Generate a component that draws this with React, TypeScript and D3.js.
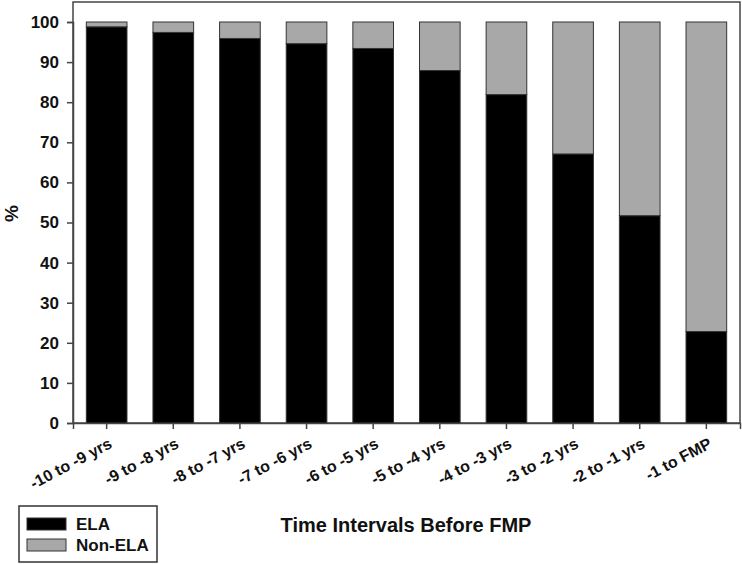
import React, { useRef, useEffect } from "react";
import * as d3 from "d3";

// interval labels along the x axis
const categories = [
  "-10 to -9 yrs",
  "-9 to -8 yrs",
  "-8 to -7 yrs",
  "-7 to -6 yrs",
  "-6 to -5 yrs",
  "-5 to -4 yrs",
  "-4 to -3 yrs",
  "-3 to -2 yrs",
  "-2 to -1 yrs",
  "-1 to FMP",
];

// percentage of ELA per interval
const elaValues = [98.8, 97.4, 95.9, 94.6, 93.4, 87.9, 81.9, 67.1, 51.7, 22.8];
// percentage of Non-ELA per interval
const nonElaValues = [1.2, 2.6, 4.1, 5.4, 6.6, 12.1, 18.1, 32.9, 48.3, 77.2];

const seriesNames = ["ELA", "Non-ELA"];
const seriesColors = ["#000000", "#a8a8a8"];
const yTicks = [0, 10, 20, 30, 40, 50, 60, 70, 80, 90, 100];

const W = 742;
const H = 564;
const FONT = "'Liberation Sans', Arial, sans-serif";

function StackedChart() {
  const ref = useRef<SVGSVGElement>(null);

  useEffect(() => {
    const svg = d3.select(ref.current).html("");

    const left = 73;
    const right = 740;
    const top = 22;
    const bottom = 423;

    const x = d3.scaleBand().domain(categories).range([left, right]).paddingInner(0.39).paddingOuter(0.2);
    const y = d3.scaleLinear().domain([0, 100]).range([bottom, top]);

    // rows for the stack layout
    const rows = categories.map((c, i) => ({
      cat: c,
      "ELA": elaValues[i],
      "Non-ELA": nonElaValues[i],
    }));
    const stacked = d3.stack<any>().keys(seriesNames)(rows);

    // frame around the plotting area
    svg
      .append("rect")
      .attr("x", left)
      .attr("y", 2)
      .attr("width", right - left)
      .attr("height", bottom - 2)
      .attr("fill", "none")
      .attr("stroke", "#444")
      .attr("stroke-width", 1.5);

    // stacked bars
    svg
      .append("g")
      .selectAll("g")
      .data(stacked)
      .join("g")
      .attr("fill", (_d, i) => seriesColors[i])
      .selectAll("rect")
      .data((d) => d)
      .join("rect")
      .attr("x", (d) => x(d.data.cat)!)
      .attr("width", x.bandwidth())
      .attr("y", (d) => y(d[1]))
      .attr("height", (d) => y(d[0]) - y(d[1]))
      .attr("stroke", "#333")
      .attr("stroke-width", 1);

    // y axis
    const yAxis = svg
      .append("g")
      .attr("transform", `translate(${left},0)`)
      .call(d3.axisLeft(y).tickValues(yTicks).tickSize(6).tickPadding(8));
    yAxis.select(".domain").attr("stroke", "#444").attr("stroke-width", 1.5);
    yAxis.selectAll(".tick line").attr("stroke", "#444").attr("stroke-width", 1.5);
    yAxis
      .selectAll("text")
      .attr("font-family", FONT)
      .attr("font-weight", "bold")
      .attr("font-size", 17)
      .attr("fill", "#111");

    // x axis with rotated labels
    const xAxis = svg
      .append("g")
      .attr("transform", `translate(0,${bottom})`)
      .call(d3.axisBottom(x).tickSize(6));
    xAxis.select(".domain").attr("stroke", "#444").attr("stroke-width", 1.5);
    xAxis.selectAll(".tick line").attr("stroke", "#444").attr("stroke-width", 1.5);
    xAxis
      .selectAll("text")
      .attr("x", 0)
      .attr("y", 0)
      .attr("dy", 0)
      .attr("font-family", FONT)
      .attr("font-weight", "bold")
      .attr("font-size", 16)
      .attr("fill", "#111")
      .attr("text-anchor", "end")
      .attr("transform", "translate(6.5,24) rotate(-28)");

    // axis titles
    svg
      .append("text")
      .attr("transform", `translate(18,213.5) rotate(-90)`)
      .attr("text-anchor", "middle")
      .attr("font-family", FONT)
      .attr("font-weight", "bold")
      .attr("font-size", 19)
      .attr("fill", "#111")
      .text("%");

    svg
      .append("text")
      .attr("x", 406)
      .attr("y", 532)
      .attr("text-anchor", "middle")
      .attr("font-family", FONT)
      .attr("font-weight", "bold")
      .attr("font-size", 20)
      .attr("fill", "#111")
      .text("Time Intervals Before FMP");

    // legend
    const lg = svg.append("g");
    lg.append("rect")
      .attr("x", 19)
      .attr("y", 506)
      .attr("width", 138)
      .attr("height", 56)
      .attr("fill", "#fff")
      .attr("stroke", "#333")
      .attr("stroke-width", 1.5);
    const items = lg
      .selectAll("g.item")
      .data(seriesNames)
      .join("g")
      .attr("class", "item")
      .attr("transform", (_d, i) => `translate(27,${518 + i * 21})`);
    items
      .append("rect")
      .attr("width", 39)
      .attr("height", 12)
      .attr("fill", (_d, i) => seriesColors[i])
      .attr("stroke", "#333")
      .attr("stroke-width", 1);
    items
      .append("text")
      .attr("x", 49)
      .attr("y", 12)
      .attr("font-family", FONT)
      .attr("font-weight", "bold")
      .attr("font-size", 17)
      .attr("fill", "#111")
      .text((d) => d);
  }, []);

  return <svg ref={ref} width={W} height={H} style={{ display: "block" }} />;
}

export default function App() {
  return (
    <div style={{ position: "fixed", left: 0, top: 0, background: "#fff" }}>
      <StackedChart />
    </div>
  );
}
